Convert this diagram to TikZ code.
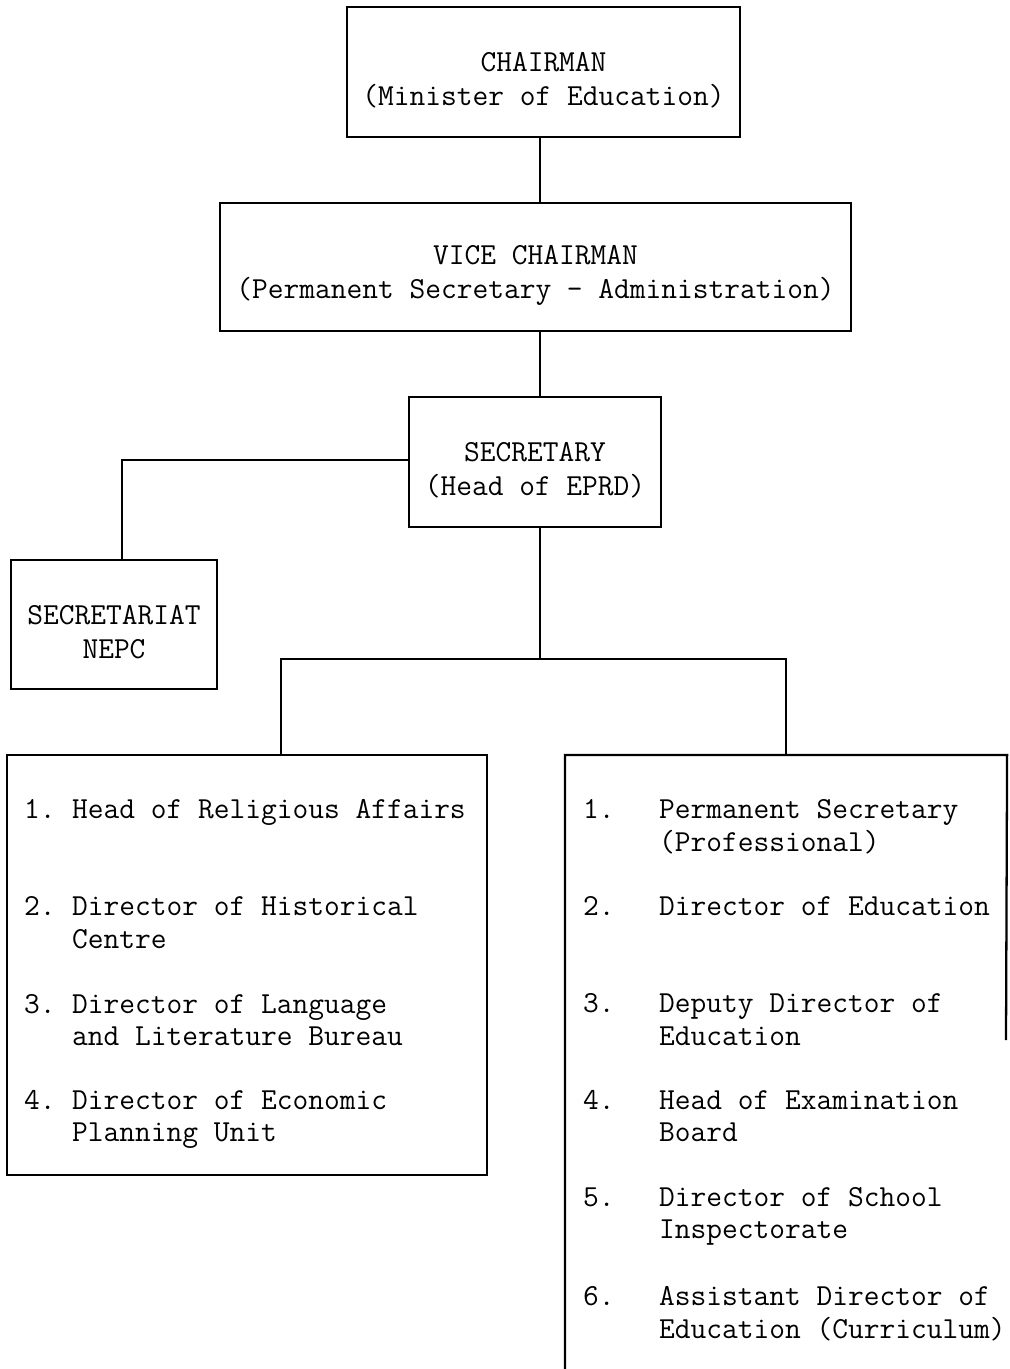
\documentclass[tikz,border=0pt]{standalone}
\usepackage{fontspec}
\newcommand{\orgsize}{\ttfamily\fontsize{17.4}{19.3}\selectfont}

\begin{document}
\begin{tikzpicture}[x=0.02cm,y=-0.02cm,line width=1.3pt,
  orgbox/.style={draw,rectangle,inner sep=0pt},
  boxtitle/.style={align=center,inner sep=0pt,yshift=-0.16cm,font=\orgsize},
  openbox/.style={draw=none,rectangle,inner sep=0pt},
  itemtxt/.style={anchor=base west,inner sep=0pt,font=\orgsize}]
\useasboundingbox (0,0) rectangle (1009,1369);

% top of the chart
\node[orgbox,minimum width=7.86cm,minimum height=2.6cm,
  label={[boxtitle]center:{CHAIRMAN\\(Minister of Education)}}] (chair) at (543.5,72) {};
\node[orgbox,minimum width=12.62cm,minimum height=2.56cm,
  label={[boxtitle]center:{VICE CHAIRMAN\\(Permanent Secretary - Administration)}}] (vice) at (535.5,267) {};
\node[orgbox,minimum width=5.04cm,minimum height=2.6cm,
  label={[boxtitle]center:{SECRETARY\\(Head of EPRD)}}] (sec) at (535,462) {};
\node[orgbox,minimum width=4.12cm,minimum height=2.58cm,
  label={[boxtitle]center:{SECRETARIAT\\NEPC}}] (secnepc) at (114,624.5) {};

% the two lists
\node[orgbox,minimum width=9.6cm,minimum height=8.4cm] (lst) at (247,965) {};
\node[openbox,minimum width=8.8cm,minimum height=12.36cm] (rst) at (786,1065) {};
\coordinate (rcut) at (1006,1040);
\draw (rst.south west) -- (rst.north west) -- (rst.north east) -- (rcut);

\foreach \yy/\num/\txt [count=\i] in {818/1./Head of Religious Affairs,
    915/2./Director of Historical, 948//Centre,
    1013/3./Director of Language, 1045//and Literature Bureau,
    1109/4./Director of Economic, 1141//Planning Unit}{
  \node[itemtxt] (lnum\i) at (23,\yy) {\num};
  \node[itemtxt] (ltxt\i) at (71,\yy) {\txt};
}
\foreach \yy/\num/\txt [count=\i] in {818/1./Permanent Secretary, 851//(Professional),
    915/2./Director of Education,
    1012/3./Deputy Director of, 1045//Education,
    1109/4./Head of Examination, 1141//Board,
    1206/5./Director of School, 1238//Inspectorate,
    1305/6./Assistant Director of, 1338//Education (Curriculum)}{
  \node[itemtxt] (rnum\i) at (582,\yy) {\num};
  \node[itemtxt] (rtxt\i) at (658,\yy) {\txt};
}

% connectors
\coordinate (spine) at (540,659);
\coordinate (ldrop) at (281,755);
\draw (chair.south -| spine) -- (vice.north -| spine);
\draw (vice.south -| spine) -- (sec.north -| spine);
\draw ([yshift=0.04cm]sec.west) -| ([xshift=0.16cm]secnepc.north);
\draw (sec.south -| spine) -- (spine);
\draw (ldrop) |- (rst.north |- spine) -- (rst.north);
\end{tikzpicture}
\end{document}
